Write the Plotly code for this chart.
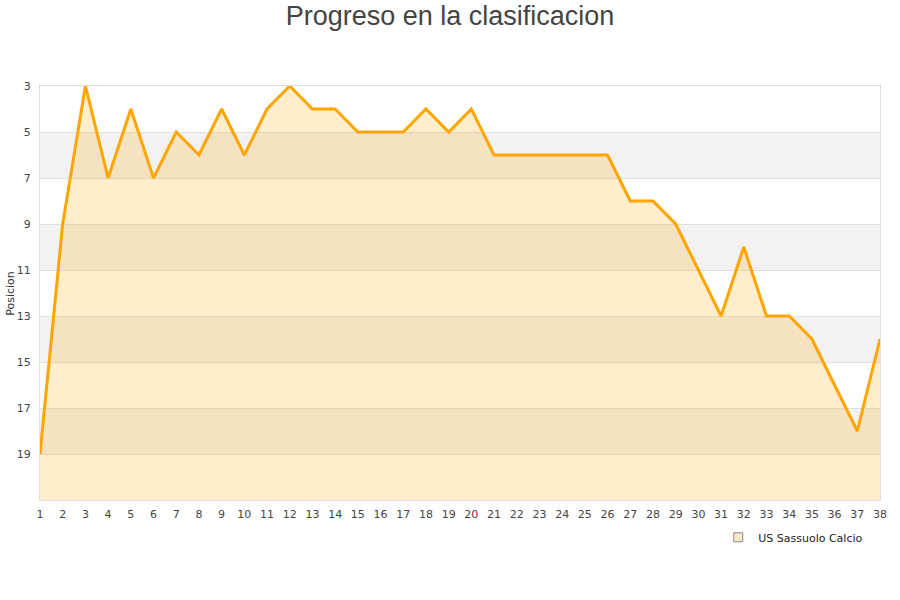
import plotly.graph_objects as go

# jornadas y posicion en la tabla
jornadas = list(range(1, 39))
posicion = [19, 9, 3, 7, 4, 7, 5, 6, 4, 6,
            4, 3, 4, 4, 5, 5, 5, 4, 5, 4,
            6, 6, 6, 6, 6, 6, 8, 8, 9, 11,
            13, 10, 13, 13, 14, 16, 18, 14]
equipo = "US Sassuolo Calcio"
y_ticks = [3, 5, 7, 9, 11, 13, 15, 17, 19]

fig = go.Figure()

fig.add_trace(go.Scatter(
    x=jornadas, y=[21] * len(jornadas), mode="lines",
    line=dict(width=0), showlegend=False, hoverinfo="skip",
))
fig.add_trace(go.Scatter(
    x=jornadas, y=posicion, mode="lines", fill="tonexty",
    fillcolor="rgba(255,165,0,0.2)",
    line=dict(color="#FFA500", width=3),
    showlegend=False, name=equipo,
))
# entrada de leyenda (cuadrado)
fig.add_trace(go.Scatter(
    x=[None], y=[None], mode="markers", name=equipo,
    marker=dict(symbol="square", size=9, color="#FFE9C4",
                line=dict(color="#888888", width=1)),
))

# bandas grises alternas
for lo in [5, 9, 13, 17]:
    fig.add_shape(type="rect", xref="paper", yref="y", x0=0, x1=1,
                  y0=lo, y1=lo + 2, fillcolor="#F2F2F2",
                  line=dict(width=0), layer="below")

fig.add_annotation(text="Posicion", xref="paper", yref="paper",
                   x=-0.036, y=0.5, textangle=-90, showarrow=False,
                   xanchor="center", yanchor="middle",
                   font=dict(size=11, color="#333333"))

fig.update_layout(
    width=900, height=600,
    paper_bgcolor="white", plot_bgcolor="white",
    margin=dict(l=40, r=20, t=86, b=100),
    font=dict(family="DejaVu Sans", size=11, color="#444444"),
    title=dict(text="Progreso en la clasificacion", x=0.5, xanchor="center",
               y=1 - 16 / 600, yanchor="middle",
               font=dict(family="Liberation Sans", size=27, color="#444444")),
    legend=dict(orientation="h", x=0.986, xanchor="right", y=-0.055,
                yanchor="top", font=dict(size=11, color="#222222"),
                itemwidth=30),
    showlegend=True,
)
fig.update_xaxes(range=[1, 38], tickmode="array", tickvals=jornadas,
                 showgrid=False, showline=True, linecolor="#DDDDDD",
                 mirror=True, zeroline=False, ticks="", tickangle=0,
                 ticklabelstandoff=4, automargin=False)
fig.update_yaxes(range=[21, 3], tickmode="array", tickvals=y_ticks,
                 showgrid=True, gridcolor="#E0E0E0", showline=True,
                 linecolor="#DDDDDD", mirror=True, zeroline=False,
                 ticklabelstandoff=6, automargin=False)

# sin margen del body para que el grafico ocupe toda la ventana
fig.write_html("out.html", config={"displayModeBar": False},
               post_script="document.body.style.margin='0px';")
